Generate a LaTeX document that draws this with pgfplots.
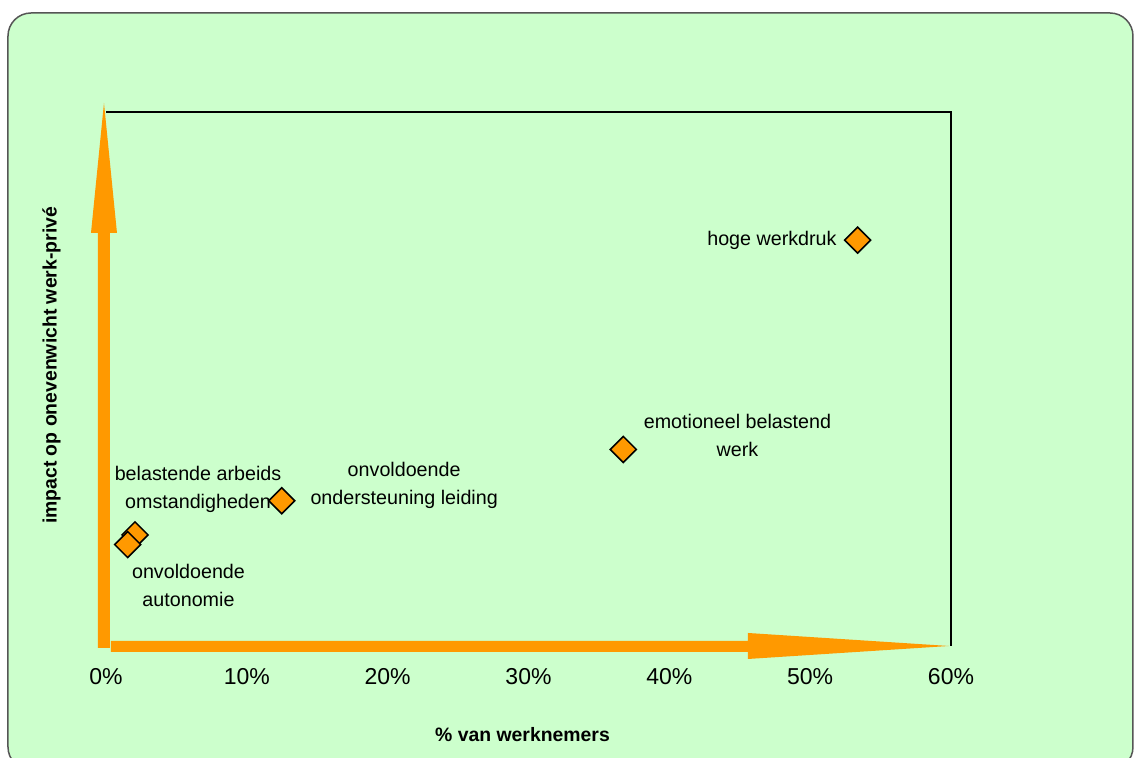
\documentclass[border=0pt]{standalone}
\usepackage{fontspec}
\setmainfont{Liberation Sans}
\usepackage{pgfplots}
\pgfplotsset{compat=1.18}

\definecolor{panel}{HTML}{CCFFCC}
\definecolor{arrowor}{HTML}{FF9900}
\definecolor{frameg}{HTML}{555555}

% risk factors: share of employees (%) vs. impact on work-life imbalance
\pgfplotstableread{
x      y
53.37  76.0
36.73  36.8
12.48  27.2
2.06   20.8
1.54   19.0
}\risks

\newcommand\lblfont{\fontsize{9.85bp}{13.85bp}\selectfont}

\begin{document}
\begin{tikzpicture}
\useasboundingbox (0,0) rectangle (567bp,379bp);
% page in pixel units, origin top left
\begin{scope}[x=0.5bp, y=-0.5bp, shift={(0,379bp)}]
  \begin{scope}
    \clip (0,0) rectangle (1134,758);
    \draw[fill=panel, draw=frameg, line width=0.75bp, rounded corners=11.5bp]
      (8,13) rectangle (1133,770);
  \end{scope}
  % orange axis arrows
  \fill[arrowor] (98,648) -- (110,648) -- (110,233) -- (117,233) -- (104,103)
    -- (91,233) -- (98,233) -- cycle;
  \fill[arrowor] (111,641) -- (748,641) -- (748,633) -- (949,646) -- (748,659)
    -- (748,652) -- (111,652) -- cycle;
  % axis titles
  \node[anchor=base, inner sep=0pt, font=\fontsize{9.7bp}{11bp}\selectfont\bfseries]
    at (522.5,741.7) {\% van werknemers};
  \node[anchor=base, inner sep=0pt, rotate=90, font=\fontsize{9.7bp}{11bp}\selectfont\bfseries]
    at (56.7,365.5) {impact op onevenwicht werk-privé};
\end{scope}

\begin{axis}[
  at={(53bp,56bp)}, anchor=south west,
  scale only axis, width=422.5bp, height=267bp,
  xmin=0, xmax=60, ymin=0, ymax=100,
  axis line style={draw=none},
  xtick={0,10,20,30,40,50,60},
  xticklabels={0\%,10\%,20\%,30\%,40\%,50\%,60\%},
  ytick=\empty,
  major tick length=0pt,
  xticklabel style={anchor=base, yshift=-19bp, inner sep=0pt,
    font=\fontsize{11.5bp}{13bp}\selectfont},
  clip=false,
]
  \draw[black, line width=0.75bp]
    (rel axis cs:0,1) -- (rel axis cs:1,1) -- (rel axis cs:1,0);
  \addplot[only marks, mark=square*, mark size=4.6bp,
    mark options={rotate=45, fill=arrowor, draw=black, line width=0.75bp}]
    table[x=x, y=y] {\risks};
  % factor names
  \node[anchor=east, inner sep=0pt, font=\lblfont]
    at ([xshift=-10.35bp]axis cs:53.37,76.0) {hoge werkdruk};
  \node[align=center, inner sep=0pt, font=\lblfont]
    at ([xshift=57.1bp, yshift=6.9bp]axis cs:36.73,36.8) {emotioneel belastend\\werk};
  \node[align=center, inner sep=0pt, font=\lblfont]
    at ([xshift=61.2bp, yshift=7.6bp]axis cs:12.48,27.2) {onvoldoende\\ondersteuning leiding};
  \node[align=center, inner sep=0pt, font=\lblfont]
    at ([xshift=31.5bp, yshift=22.9bp]axis cs:2.06,20.8) {belastende arbeids\\omstandigheden};
  \node[align=center, inner sep=0pt, font=\lblfont]
    at ([xshift=30.4bp, yshift=-20.4bp]axis cs:1.54,19.0) {onvoldoende\\autonomie};
\end{axis}
\end{tikzpicture}
\end{document}
